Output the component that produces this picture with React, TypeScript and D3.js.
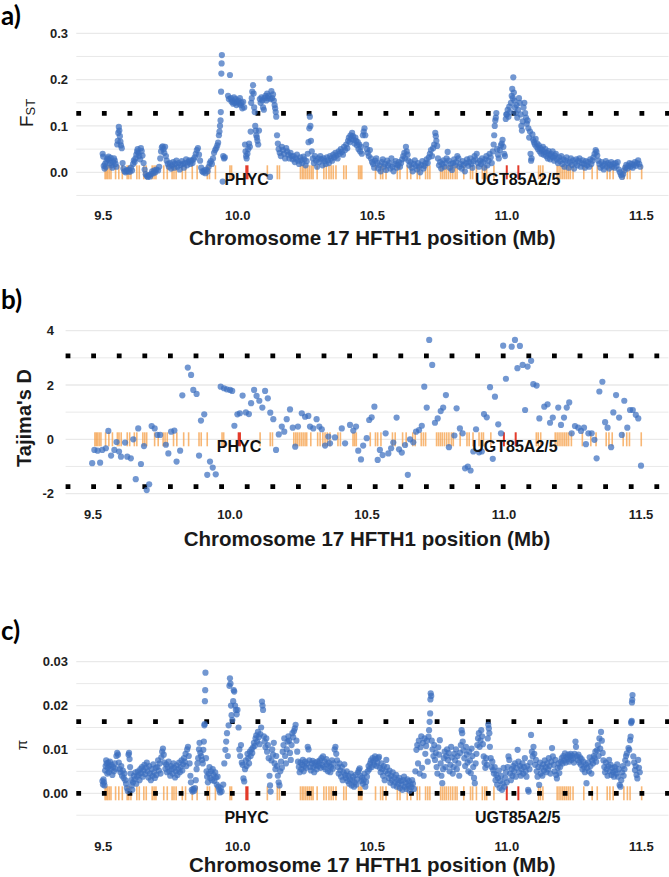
import React from 'react';
import * as d3 from 'd3';

type Pt = [number, number];

// ---- shared axis content ----
const xDomain: [number, number] = [9.4, 11.6];
const xTicks = [9.5, 10.0, 10.5, 11.0, 11.5];
const xTickLabels = ['9.5', '10.0', '10.5', '11.0', '11.5'];
const xTitle = 'Chromosome 17 HFTH1 position (Mb)';

const fstTicks = [0, 0.1, 0.2, 0.3];
const fstTickLabels = ['0.0', '0.1', '0.2', '0.3'];
const fstMinor = [-0.05, 0.05, 0.15, 0.25];
const fstCutoffs = [0.127];

const tajTicks = [-2, 0, 2, 4];
const tajTickLabels = ['-2', '0', '2', '4'];
const tajMinor = [-1, 1, 3];
const tajCutoffs = [3.07, -1.745];

const piTicks = [0, 0.01, 0.02, 0.03];
const piTickLabels = ['0.00', '0.01', '0.02', '0.03'];
const piMinor = [-0.005, 0.005, 0.015, 0.025];
const piCutoffs = [0.01636, 0];

// ---- gene annotation track (start Mb, length Mb) ----
const genes: Pt[] = [
  [9.504,0.004],[9.509,0.004],[9.514,0.005],[9.520,0.004],[9.526,0.003],[9.543,0.002],[9.555,0.003],[9.568,0.002],
  [9.586,0.004],[9.592,0.003],[9.600,0.004],[9.622,0.004],[9.631,0.004],[9.648,0.003],[9.657,0.004],[9.679,0.004],
  [9.686,0.003],[9.693,0.004],[9.722,0.003],[9.735,0.003],[9.753,0.004],[9.760,0.003],[9.768,0.004],[9.791,0.003],
  [9.803,0.003],[9.828,0.002],[9.846,0.003],[9.884,0.004],[9.892,0.004],[9.914,0.002],[9.968,0.004],[9.974,0.004],
  [10.107,0.002],[10.144,0.004],[10.152,0.004],[10.230,0.005],[10.237,0.004],[10.243,0.005],[10.250,0.004],[10.257,0.005],
  [10.264,0.004],[10.271,0.004],[10.277,0.004],[10.292,0.003],[10.317,0.003],[10.326,0.003],[10.336,0.003],[10.344,0.004],
  [10.352,0.003],[10.362,0.004],[10.391,0.003],[10.400,0.003],[10.446,0.004],[10.452,0.004],[10.458,0.003],[10.509,0.003],
  [10.528,0.004],[10.536,0.003],[10.548,0.004],[10.590,0.003],[10.600,0.002],[10.627,0.003],[10.640,0.003],[10.664,0.004],
  [10.673,0.003],[10.695,0.004],[10.703,0.003],[10.711,0.004],[10.751,0.004],[10.758,0.004],[10.765,0.003],[10.772,0.004],
  [10.780,0.003],[10.788,0.004],[10.796,0.003],[10.805,0.004],[10.812,0.003],[10.837,0.003],[10.862,0.004],[10.870,0.003],
  [10.884,0.004],[10.906,0.004],[10.915,0.003],[10.922,0.004],[10.949,0.003],[11.115,0.004],[11.122,0.003],[11.131,0.004],
  [11.184,0.005],[11.191,0.004],[11.198,0.005],[11.205,0.004],[11.212,0.005],[11.219,0.004],[11.226,0.004],[11.233,0.004],
  [11.243,0.004],[11.283,0.003],[11.314,0.003],[11.333,0.003],[11.370,0.004],[11.380,0.003],[11.392,0.004],[11.432,0.004],
  [11.445,0.003],[11.455,0.004],[11.498,0.004],
];
const candidateGenes: Pt[] = [[10.028, 0.012], [10.996, 0.005], [11.039, 0.005]];
const geneNames = ['PHYC', 'UGT85A2/5'];
const geneNamePos = [10.033, 11.040];

// ---- FST windows (Mb, FST) ----
const fstPoints: Pt[] = [
  [9.498,0.040],[9.500,0.034],[9.502,0.014],[9.505,0.008],[9.507,0.018],[9.510,0.012],[9.512,0.024],[9.515,0.030],[9.518,0.028],[9.520,0.034],
  [9.523,0.026],[9.526,0.020],[9.528,0.031],[9.531,0.015],[9.534,0.010],[9.537,0.022],[9.540,0.030],[9.543,0.025],[9.546,0.018],[9.549,0.012],
  [9.552,0.060],[9.554,0.068],[9.556,0.085],[9.558,0.098],[9.560,0.090],[9.562,0.078],[9.564,0.066],[9.566,0.058],[9.569,0.052],[9.572,0.020],
  [9.575,0.008],[9.579,0.002],[9.583,0.000],[9.587,0.004],[9.591,0.002],[9.595,0.006],[9.599,0.001],
  [9.603,0.010],[9.607,0.004],[9.611,0.018],[9.614,0.026],[9.617,0.022],[9.620,0.030],[9.623,0.038],[9.626,0.045],[9.628,0.050],[9.631,0.042],
  [9.634,0.035],[9.637,0.028],[9.640,0.052],[9.643,0.046],[9.646,0.036],[9.650,0.020],[9.654,0.006],[9.658,-0.004],[9.662,-0.008],[9.666,-0.010],
  [9.670,-0.006],[9.674,-0.009],[9.678,-0.004],[9.682,0.002],[9.686,-0.002],[9.690,0.004],[9.694,0.000],[9.698,0.006],
  [9.704,0.004],[9.708,0.012],[9.712,0.030],[9.715,0.045],[9.718,0.054],[9.721,0.056],[9.724,0.050],[9.727,0.042],[9.730,0.055],[9.733,0.035],
  [9.736,0.025],[9.740,0.018],[9.744,0.012],[9.748,0.020],[9.752,0.008],[9.756,0.015],[9.760,0.022],[9.764,0.010],[9.768,0.018],[9.772,0.025],
  [9.776,0.012],[9.780,0.020],[9.784,0.006],[9.788,0.016],[9.792,0.024],[9.796,0.018],[9.800,0.010],
  [9.804,0.020],[9.808,0.028],[9.812,0.015],[9.816,0.022],[9.820,0.026],[9.824,0.018],[9.828,0.025],[9.832,0.020],[9.836,0.028],[9.840,0.032],
  [9.844,0.040],[9.848,0.048],[9.852,0.052],[9.856,0.038],[9.860,0.025],[9.864,0.010],[9.868,0.002],[9.872,0.000],[9.876,0.004],[9.880,-0.002],
  [9.884,0.006],[9.888,0.002],[9.892,0.012],[9.896,0.020],[9.900,0.024],
  [9.904,0.018],[9.908,0.030],[9.912,0.042],[9.916,0.048],[9.920,0.052],[9.924,0.058],[9.927,0.064],[9.930,0.080],[9.932,0.088],[9.934,0.100],
  [9.936,0.112],[9.937,0.130],[9.938,0.174],[9.939,0.213],[9.940,0.235],[9.941,0.253],[9.944,-0.020],[9.946,0.035],[9.949,0.030],[9.952,0.032],
  [9.964,0.165],[9.967,0.158],[9.971,0.210],[9.974,0.160],[9.977,0.152],[9.980,0.155],[9.983,0.148],[9.986,0.162],[9.989,0.150],[9.992,0.158],
  [9.995,0.145],[9.998,0.152],
  [10.002,0.155],[10.005,0.148],[10.008,0.160],[10.011,0.145],[10.014,0.150],[10.017,0.138],[10.020,0.152],[10.024,0.140],[10.027,0.060],[10.029,0.045],
  [10.031,0.035],[10.033,0.030],[10.036,0.040],[10.039,0.050],[10.042,0.062],[10.045,0.055],[10.048,0.088],[10.050,0.150],[10.052,0.160],[10.054,0.174],
  [10.057,0.188],[10.059,0.170],[10.061,0.140],[10.063,0.130],[10.065,0.100],[10.067,0.090],[10.069,0.080],[10.071,0.075],[10.073,0.068],[10.076,0.060],
  [10.079,0.090],[10.082,0.158],[10.085,0.150],[10.088,0.162],[10.091,0.155],[10.094,0.140],[10.097,0.135],[10.100,0.160],
  [10.103,0.165],[10.106,0.155],[10.109,0.170],[10.112,0.160],[10.115,0.165],[10.118,0.202],[10.120,-0.010],[10.122,0.158],[10.125,0.175],[10.128,0.160],
  [10.131,0.168],[10.134,0.155],[10.137,0.145],[10.139,0.138],[10.141,0.130],[10.143,0.120],[10.146,0.080],[10.149,0.062],[10.152,0.050],[10.156,0.042],
  [10.160,0.035],[10.164,0.055],[10.168,0.048],[10.172,0.040],[10.176,0.030],[10.180,0.052],[10.184,0.045],[10.188,0.038],[10.192,0.030],[10.196,0.042],
  [10.200,0.035],
  [10.204,0.028],[10.208,0.035],[10.212,0.022],[10.216,0.030],[10.220,0.038],[10.224,0.025],[10.228,0.018],[10.232,0.032],[10.236,0.026],[10.240,0.020],
  [10.244,0.034],[10.248,0.028],[10.252,0.015],[10.256,0.024],[10.260,0.040],[10.263,0.065],[10.266,0.095],[10.268,0.120],[10.270,0.100],[10.272,0.068],
  [10.275,0.045],[10.279,0.030],[10.283,0.020],[10.287,0.035],[10.291,0.025],[10.295,0.012],[10.299,0.030],
  [10.303,0.022],[10.307,0.035],[10.311,0.028],[10.315,0.015],[10.319,0.030],[10.323,0.024],[10.327,0.018],[10.331,0.032],[10.335,0.026],[10.339,0.020],
  [10.343,0.035],[10.347,0.030],[10.351,0.025],[10.355,0.038],[10.359,0.032],[10.363,0.042],[10.367,0.036],[10.371,0.030],[10.375,0.045],[10.379,0.040],
  [10.383,0.050],[10.387,0.044],[10.391,0.038],[10.395,0.055],[10.399,0.048],
  [10.403,0.060],[10.407,0.052],[10.410,0.068],[10.413,0.075],[10.416,0.065],[10.419,0.080],[10.422,0.072],[10.425,0.085],[10.428,0.078],[10.431,0.070],
  [10.434,0.062],[10.437,0.075],[10.440,0.068],[10.443,0.058],[10.446,0.065],[10.449,0.050],[10.452,0.060],[10.455,0.045],[10.458,0.055],[10.461,0.040],
  [10.465,0.080],[10.468,0.088],[10.471,0.095],[10.474,0.080],[10.477,0.060],[10.480,0.050],[10.483,0.042],[10.487,0.035],[10.491,0.048],[10.495,0.030],
  [10.499,0.022],
  [10.503,0.018],[10.507,0.010],[10.511,0.025],[10.515,0.030],[10.519,0.020],[10.523,0.008],[10.527,0.015],[10.531,0.002],[10.535,0.022],[10.539,0.028],
  [10.543,0.012],[10.547,0.018],[10.551,0.005],[10.555,0.025],[10.559,0.015],[10.563,0.020],[10.567,0.008],[10.571,0.030],[10.575,0.012],[10.579,0.002],
  [10.583,0.018],[10.587,0.024],[10.591,0.010],[10.595,0.016],[10.599,0.022],
  [10.603,0.012],[10.607,0.020],[10.611,0.028],[10.615,0.035],[10.619,0.042],[10.622,0.030],[10.625,0.055],[10.628,0.045],[10.631,0.038],[10.634,0.025],
  [10.638,0.015],[10.642,0.022],[10.646,0.010],[10.650,0.002],[10.654,0.018],[10.658,0.026],[10.662,0.014],[10.666,0.006],[10.670,0.020],[10.674,0.012],
  [10.678,0.000],[10.682,0.016],[10.686,0.024],[10.690,0.008],[10.694,0.014],[10.698,0.020],
  [10.702,0.028],[10.706,0.020],[10.710,0.032],[10.714,0.040],[10.718,0.048],[10.722,0.035],[10.726,0.052],[10.730,0.060],[10.734,0.085],[10.736,0.078],
  [10.738,0.068],[10.741,0.057],[10.744,0.030],[10.748,0.015],[10.752,0.022],[10.756,0.008],[10.760,0.018],[10.764,0.026],[10.768,0.012],[10.772,0.020],
  [10.776,0.030],[10.780,0.044],[10.784,0.025],[10.788,0.010],[10.792,0.018],[10.796,0.005],
  [10.800,0.020],[10.804,0.028],[10.808,0.015],[10.812,0.022],[10.816,0.035],[10.820,0.030],[10.824,0.012],[10.828,0.018],[10.832,0.008],[10.836,0.024],
  [10.840,0.016],[10.844,0.002],[10.848,0.020],[10.852,0.028],[10.856,0.014],[10.860,0.022],[10.864,0.030],[10.868,0.018],[10.872,0.010],[10.876,0.024],
  [10.880,0.035],[10.884,0.028],[10.888,0.040],[10.892,0.020],[10.896,0.012],
  [10.900,0.025],[10.904,0.018],[10.908,0.030],[10.912,0.022],[10.916,0.010],[10.920,0.028],[10.924,0.035],[10.928,0.015],[10.932,0.025],[10.936,0.040],
  [10.940,0.032],[10.944,0.020],[10.948,0.045],[10.951,0.060],[10.953,0.080],[10.955,0.100],[10.957,0.112],[10.959,0.118],[10.961,0.128],[10.964,0.050],
  [10.967,0.038],[10.970,0.030],[10.974,0.048],[10.978,0.058],[10.981,0.062],[10.984,0.070],[10.987,0.055],[10.990,0.040],[10.993,0.035],[10.996,0.115],
  [10.998,0.125],
  [11.000,0.125],[11.003,0.135],[11.006,0.120],[11.009,0.142],[11.012,0.130],[11.015,0.150],[11.018,0.165],[11.020,0.180],[11.022,0.160],[11.024,0.205],
  [11.026,0.172],[11.028,0.155],[11.030,0.140],[11.033,0.128],[11.036,0.145],[11.039,0.118],[11.042,0.135],[11.045,0.160],[11.048,0.150],[11.051,0.125],
  [11.054,0.100],[11.056,0.090],[11.059,0.110],[11.062,0.140],[11.065,0.150],[11.068,0.128],[11.071,0.118],[11.074,0.105],[11.077,0.112],[11.080,0.095],
  [11.083,0.075],[11.086,0.088],[11.088,0.040],[11.090,0.025],[11.092,0.030],[11.095,0.082],[11.098,0.070],
  [11.101,0.065],[11.104,0.060],[11.107,0.072],[11.110,0.055],[11.113,0.062],[11.116,0.050],[11.119,0.058],[11.122,0.045],[11.125,0.052],[11.128,0.040],
  [11.131,0.048],[11.134,0.055],[11.137,0.038],[11.140,0.044],[11.143,0.050],[11.146,0.035],[11.149,0.042],[11.152,0.030],[11.155,0.046],[11.158,0.038],
  [11.161,0.028],[11.164,0.040],[11.167,0.034],[11.170,0.045],[11.173,0.032],[11.176,0.025],[11.179,0.036],[11.182,0.040],[11.186,0.028],[11.190,0.020],
  [11.194,0.032],[11.198,0.024],
  [11.202,0.035],[11.206,0.018],[11.210,0.028],[11.214,0.012],[11.218,0.025],[11.222,0.032],[11.226,0.020],[11.230,0.010],[11.234,0.022],[11.238,0.030],
  [11.242,0.016],[11.246,0.026],[11.250,0.008],[11.254,0.020],[11.258,0.028],[11.262,0.015],[11.266,0.024],[11.270,0.030],[11.274,0.012],[11.278,0.020],
  [11.282,0.026],[11.286,0.018],[11.290,0.010],[11.294,0.024],[11.298,0.015],
  [11.302,0.022],[11.306,0.012],[11.310,0.028],[11.314,0.018],[11.318,0.025],[11.322,0.032],[11.326,0.040],[11.330,0.048],[11.333,0.044],[11.336,0.036],
  [11.340,0.025],[11.344,0.018],[11.348,0.010],[11.352,0.022],[11.356,0.014],[11.360,0.006],[11.364,0.018],[11.368,0.024],[11.372,0.012],[11.376,0.020],
  [11.380,0.008],[11.384,0.016],[11.388,0.022],[11.392,0.012],[11.396,0.018],
  [11.400,0.010],[11.404,0.020],[11.408,0.014],[11.412,0.022],[11.416,0.006],[11.420,0.000],[11.424,-0.006],[11.428,-0.010],[11.432,-0.004],[11.436,0.004],
  [11.440,0.010],[11.444,0.016],[11.448,0.008],[11.452,0.014],[11.456,0.020],[11.460,0.012],[11.464,0.018],[11.468,0.010],[11.472,0.016],[11.476,0.022],
  [11.480,0.014],[11.484,0.020],[11.488,0.026],[11.492,0.018],[11.496,0.012],
];

// ---- Tajima's D windows (Mb, D) ----
const tajimaPoints: Pt[] = [
  [9.497,-0.88],[9.505,-0.39],[9.517,-0.42],[9.526,-0.86],[9.534,-0.39],[9.547,-0.33],[9.556,0.31],[9.566,-0.60],[9.578,-0.39],[9.586,-0.10],
  [9.595,-0.45],[9.602,-0.64],[9.617,-0.12],[9.625,-0.64],[9.638,-0.70],[9.647,0.00],[9.656,-1.47],[9.665,0.40],[9.675,-0.91],[9.686,-0.25],
  [9.696,-1.87],[9.705,-1.66],[9.714,0.49],[9.725,0.40],[9.735,0.16],[9.745,0.16],[9.766,-0.20],[9.775,-0.52],[9.785,0.28],[9.797,0.32],
  [9.805,-0.82],[9.818,-0.42],[9.826,1.62],[9.846,2.64],[9.858,2.37],[9.866,1.82],[9.878,1.67],[9.887,-0.60],[9.894,0.69],[9.906,0.92],
  [9.917,-1.31],[9.927,-0.82],[9.937,-1.04],[9.948,-1.29],[9.966,1.94],[9.978,1.88],[9.988,1.84],[10.000,1.82],[10.008,1.78],[10.016,0.50],
  [10.027,0.92],[10.036,0.96],[10.046,1.61],[10.058,0.99],[10.069,0.93],[10.077,1.33],[10.088,1.82],[10.097,1.60],[10.107,1.42],[10.118,1.17],
  [10.128,1.78],[10.138,1.51],[10.147,0.98],[10.158,0.74],[10.168,-0.39],[10.178,0.18],[10.189,0.47],[10.198,0.28],[10.207,0.74],[10.219,1.10],
  [10.229,0.43],[10.238,-0.27],[10.248,0.47],[10.262,0.96],[10.274,0.83],[10.286,0.86],[10.292,0.47],[10.304,0.40],[10.316,0.74],[10.326,0.47],
  [10.335,0.37],[10.347,-0.23],[10.359,0.10],[10.365,-0.15],[10.383,0.07],[10.408,0.40],[10.420,-0.15],[10.438,0.53],[10.450,0.32],[10.460,0.47],
  [10.468,-0.42],[10.478,-0.74],[10.486,-0.23],[10.499,0.04],[10.508,0.71],[10.517,0.81],[10.527,1.20],[10.539,-0.76],[10.547,-0.39],[10.557,-0.58],
  [10.568,0.22],[10.578,-0.52],[10.588,-0.33],[10.596,-0.12],[10.608,0.80],[10.617,-0.37],[10.627,-0.49],[10.639,-0.21],[10.649,-1.31],[10.657,0.00],
  [10.669,-0.11],[10.679,0.28],[10.690,0.34],[10.700,0.50],[10.709,1.94],[10.718,1.17],[10.727,3.66],[10.738,2.74],[10.748,0.61],[10.758,0.77],
  [10.769,1.04],[10.778,1.17],[10.788,1.63],[10.799,-0.29],[10.819,0.14],[10.827,1.14],[10.839,0.40],[10.849,0.22],[10.858,-1.07],[10.868,-1.01],
  [10.878,-1.15],[10.888,-0.45],[10.898,0.37],[10.909,-0.48],[10.919,-0.45],[10.927,0.93],[10.937,0.81],[10.949,1.92],[10.959,-0.72],[10.967,1.57],
  [10.979,0.55],[10.989,0.22],[10.997,3.45],[11.007,2.23],[11.028,3.41],[11.040,3.66],[11.049,2.62],[11.058,3.44],[11.068,2.74],[11.077,1.08],
  [11.086,2.68],[11.099,2.89],[11.107,2.03],[11.119,1.98],[11.129,0.77],[11.147,1.20],[11.159,1.29],[11.168,0.61],[11.178,0.80],[11.198,1.17],
  [11.208,0.53],[11.219,0.80],[11.229,1.17],[11.238,1.36],[11.247,0.22],[11.259,0.49],[11.271,0.43],[11.281,0.31],[11.292,0.43],[11.299,-0.18],
  [11.308,0.22],[11.320,0.22],[11.330,-0.02],[11.338,-0.70],[11.348,1.76],[11.359,2.12],[11.369,0.63],[11.378,0.43],[11.391,-0.29],[11.399,0.99],
  [11.409,1.63],[11.420,0.80],[11.430,0.16],[11.439,1.42],[11.450,0.43],[11.460,1.08],[11.470,1.08],[11.481,0.90],[11.490,0.77],[11.500,-0.97],
];

// ---- nucleotide diversity windows (Mb, pi) ----
const piPoints: Pt[] = [
  [9.497,0.0028],[9.499,0.0020],[9.501,0.0032],[9.503,0.0025],[9.505,0.0018],[9.507,0.0052],[9.509,0.0062],[9.511,0.0075],[9.513,0.0068],[9.515,0.0045],
  [9.517,0.0058],[9.519,0.0070],[9.521,0.0048],[9.523,0.0062],[9.525,0.0072],[9.528,0.0055],[9.531,0.0065],[9.534,0.0042],[9.537,0.0060],[9.540,0.0050],
  [9.543,0.0068],[9.546,0.0056],[9.549,0.0085],[9.552,0.0092],[9.555,0.0088],[9.558,0.0070],[9.561,0.0055],[9.564,0.0048],[9.567,0.0062],[9.570,0.0040],
  [9.573,0.0052],[9.576,0.0035],[9.579,0.0045],[9.582,0.0030],[9.585,0.0022],[9.588,0.0012],[9.591,0.0005],[9.594,0.0088],[9.596,0.0092],[9.598,0.0078],
  [9.600,0.0060],
  [9.602,0.0045],[9.604,0.0030],[9.606,0.0018],[9.608,0.0008],[9.611,0.0025],[9.614,0.0040],[9.617,0.0032],[9.620,0.0048],[9.623,0.0022],[9.626,0.0038],
  [9.629,0.0050],[9.632,0.0042],[9.635,0.0030],[9.638,0.0055],[9.641,0.0046],[9.644,0.0060],[9.647,0.0038],[9.650,0.0052],[9.653,0.0065],[9.656,0.0044],
  [9.659,0.0058],[9.662,0.0070],[9.665,0.0050],[9.668,0.0036],[9.671,0.0062],[9.674,0.0045],[9.677,0.0030],[9.680,0.0055],[9.683,0.0040],[9.686,0.0066],
  [9.689,0.0048],[9.692,0.0035],[9.695,0.0058],[9.698,0.0042],
  [9.701,0.0060],[9.704,0.0075],[9.707,0.0052],[9.710,0.0068],[9.713,0.0045],[9.716,0.0082],[9.719,0.0095],[9.722,0.0102],[9.725,0.0088],[9.728,0.0070],
  [9.731,0.0056],[9.734,0.0066],[9.737,0.0048],[9.740,0.0060],[9.743,0.0072],[9.746,0.0050],[9.749,0.0040],[9.752,0.0062],[9.755,0.0055],[9.758,0.0045],
  [9.761,0.0068],[9.764,0.0058],[9.767,0.0036],[9.770,0.0050],[9.773,0.0064],[9.776,0.0042],[9.779,0.0055],[9.782,0.0070],[9.785,0.0048],[9.788,0.0060],
  [9.791,0.0075],[9.794,0.0052],[9.797,0.0066],
  [9.800,0.0080],[9.803,0.0072],[9.806,0.0090],[9.809,0.0062],[9.812,0.0100],[9.815,0.0106],[9.818,0.0085],[9.821,0.0068],[9.824,0.0040],[9.826,0.0025],
  [9.829,0.0008],[9.832,0.0004],[9.835,0.0010],[9.838,0.0006],[9.841,0.0012],[9.844,0.0030],[9.847,0.0055],[9.850,0.0068],[9.853,0.0080],[9.856,0.0100],
  [9.858,0.0115],[9.861,0.0092],[9.864,0.0085],[9.867,0.0076],[9.870,0.0068],[9.872,0.0099],[9.874,0.0118],[9.876,0.0155],[9.877,0.0158],[9.878,0.0210],
  [9.879,0.0235],[9.880,0.0275],[9.882,0.0080],[9.884,0.0050],[9.886,0.0038],[9.889,0.0025],[9.892,0.0045],[9.895,0.0060],[9.898,0.0035],
  [9.901,0.0050],[9.904,0.0030],[9.907,0.0055],[9.910,0.0042],[9.913,0.0028],[9.916,0.0048],[9.919,0.0036],[9.922,0.0020],[9.925,0.0038],[9.928,0.0015],
  [9.931,0.0008],[9.934,0.0002],[9.937,0.0012],[9.940,0.0004],[9.946,0.0020],[9.950,0.0068],[9.954,0.0099],[9.957,0.0118],[9.960,0.0137],[9.963,0.0085],
  [9.966,0.0155],[9.969,0.0245],[9.971,0.0262],[9.973,0.0250],[9.975,0.0200],[9.977,0.0178],[9.980,0.0167],[9.983,0.0210],[9.985,0.0235],[9.987,0.0232],
  [9.990,0.0200],[9.993,0.0190],[9.996,0.0180],[9.999,0.0190],
  [10.003,0.0150],[10.006,0.0100],[10.009,0.0085],[10.012,0.0110],[10.015,0.0070],[10.018,0.0065],[10.021,0.0034],[10.024,0.0027],[10.027,0.0055],[10.030,0.0075],
  [10.033,0.0062],[10.036,0.0090],[10.039,0.0080],[10.042,0.0068],[10.045,0.0095],[10.048,0.0085],[10.051,0.0100],[10.054,0.0092],[10.057,0.0105],[10.060,0.0115],
  [10.063,0.0108],[10.066,0.0125],[10.069,0.0132],[10.072,0.0118],[10.075,0.0140],[10.078,0.0128],[10.081,0.0112],[10.084,0.0135],[10.087,0.0150],[10.090,0.0209],
  [10.092,0.0200],[10.094,0.0190],[10.097,0.0130],[10.100,0.0118],
  [10.103,0.0105],[10.106,0.0125],[10.109,0.0095],[10.112,0.0110],[10.115,0.0080],[10.118,0.0040],[10.120,0.0018],[10.122,0.0004],[10.125,0.0075],[10.128,0.0100],
  [10.131,0.0088],[10.134,0.0115],[10.137,0.0068],[10.140,0.0055],[10.143,0.0085],[10.146,0.0062],[10.149,0.0040],[10.152,0.0025],[10.155,0.0018],[10.158,0.0050],
  [10.161,0.0072],[10.164,0.0058],[10.167,0.0095],[10.170,0.0110],[10.173,0.0125],[10.176,0.0085],[10.179,0.0068],[10.182,0.0100],[10.185,0.0118],[10.188,0.0130],
  [10.191,0.0120],[10.194,0.0092],[10.197,0.0076],
  [10.200,0.0110],[10.203,0.0137],[10.206,0.0128],[10.209,0.0142],[10.212,0.0148],[10.215,0.0156],[10.218,0.0120],[10.221,0.0095],[10.224,0.0072],[10.227,0.0060],
  [10.230,0.0048],[10.233,0.0070],[10.236,0.0055],[10.239,0.0065],[10.242,0.0076],[10.245,0.0050],[10.248,0.0062],[10.251,0.0072],[10.254,0.0058],[10.257,0.0068],
  [10.260,0.0106],[10.263,0.0100],[10.266,0.0075],[10.269,0.0060],[10.272,0.0052],[10.275,0.0068],[10.278,0.0074],[10.281,0.0060],[10.284,0.0048],[10.287,0.0070],
  [10.290,0.0064],[10.293,0.0055],[10.296,0.0072],[10.299,0.0062],
  [10.302,0.0068],[10.305,0.0075],[10.308,0.0058],[10.311,0.0080],[10.314,0.0065],[10.317,0.0084],[10.320,0.0060],[10.323,0.0072],[10.326,0.0055],[10.329,0.0078],
  [10.332,0.0066],[10.335,0.0050],[10.338,0.0070],[10.341,0.0062],[10.344,0.0048],[10.347,0.0060],[10.350,0.0075],[10.353,0.0056],[10.356,0.0068],[10.360,0.0100],
  [10.363,0.0106],[10.366,0.0090],[10.369,0.0075],[10.372,0.0060],[10.375,0.0045],[10.378,0.0068],[10.381,0.0052],[10.384,0.0038],[10.387,0.0060],[10.390,0.0030],
  [10.393,0.0048],[10.396,0.0066],[10.399,0.0042],
  [10.402,0.0035],[10.405,0.0050],[10.408,0.0028],[10.411,0.0040],[10.414,0.0022],[10.417,0.0032],[10.420,0.0045],[10.423,0.0018],[10.426,0.0030],[10.429,0.0038],
  [10.432,0.0015],[10.435,0.0025],[10.438,0.0042],[10.441,0.0020],[10.444,0.0032],[10.447,0.0048],[10.450,0.0053],[10.453,0.0057],[10.456,0.0040],[10.459,0.0028],
  [10.462,0.0036],[10.465,0.0022],[10.468,0.0030],[10.471,0.0045],[10.474,0.0015],[10.477,0.0026],[10.480,0.0038],[10.483,0.0050],[10.486,0.0062],[10.489,0.0055],
  [10.492,0.0068],[10.495,0.0075],[10.498,0.0060],
  [10.501,0.0080],[10.504,0.0072],[10.507,0.0065],[10.510,0.0084],[10.513,0.0078],[10.516,0.0062],[10.519,0.0070],[10.522,0.0080],[10.525,0.0083],[10.528,0.0058],
  [10.531,0.0048],[10.534,0.0068],[10.537,0.0055],[10.540,0.0040],[10.543,0.0062],[10.546,0.0030],[10.549,0.0050],[10.552,0.0076],[10.555,0.0060],[10.558,0.0045],
  [10.561,0.0035],[10.564,0.0052],[10.567,0.0024],[10.570,0.0040],[10.573,0.0030],[10.576,0.0048],[10.579,0.0018],[10.582,0.0036],[10.585,0.0025],[10.588,0.0042],
  [10.591,0.0015],[10.594,0.0030],[10.597,0.0022],
  [10.600,0.0035],[10.603,0.0012],[10.606,0.0028],[10.609,0.0020],[10.612,0.0008],[10.615,0.0030],[10.618,0.0038],[10.621,0.0015],[10.624,0.0024],[10.627,0.0010],
  [10.630,0.0032],[10.633,0.0018],[10.636,0.0028],[10.639,0.0006],[10.642,0.0020],[10.645,0.0014],[10.648,0.0030],[10.651,0.0022],[10.655,0.0010],[10.660,0.0050],
  [10.664,0.0099],[10.667,0.0110],[10.670,0.0068],[10.673,0.0120],[10.676,0.0045],[10.679,0.0105],[10.682,0.0130],[10.685,0.0058],[10.688,0.0115],[10.691,0.0040],
  [10.694,0.0125],[10.697,0.0090],
  [10.700,0.0108],[10.703,0.0120],[10.706,0.0072],[10.709,0.0129],[10.711,0.0144],[10.713,0.0163],[10.715,0.0182],[10.716,0.0214],[10.717,0.0228],[10.719,0.0222],
  [10.721,0.0120],[10.724,0.0100],[10.727,0.0085],[10.730,0.0110],[10.733,0.0076],[10.736,0.0092],[10.739,0.0060],[10.742,0.0045],[10.745,0.0105],[10.748,0.0088],
  [10.751,0.0121],[10.754,0.0068],[10.757,0.0040],[10.760,0.0023],[10.763,0.0055],[10.766,0.0080],[10.769,0.0095],[10.772,0.0060],[10.775,0.0085],[10.778,0.0100],
  [10.781,0.0076],[10.784,0.0092],[10.787,0.0050],[10.790,0.0065],[10.793,0.0106],[10.796,0.0082],[10.799,0.0045],
  [10.802,0.0060],[10.805,0.0090],[10.808,0.0075],[10.811,0.0100],[10.814,0.0055],[10.817,0.0085],[10.820,0.0068],[10.823,0.0040],[10.826,0.0092],[10.829,0.0110],
  [10.832,0.0144],[10.834,0.0137],[10.836,0.0118],[10.839,0.0098],[10.842,0.0080],[10.845,0.0062],[10.848,0.0106],[10.851,0.0088],[10.854,0.0070],[10.857,0.0050],
  [10.860,0.0095],[10.863,0.0075],[10.866,0.0046],[10.869,0.0102],[10.872,0.0085],[10.875,0.0060],[10.878,0.0035],[10.881,0.0023],[10.884,0.0068],[10.887,0.0090],
  [10.890,0.0110],[10.893,0.0125],[10.896,0.0137],
  [10.899,0.0106],[10.902,0.0120],[10.905,0.0144],[10.908,0.0130],[10.911,0.0112],[10.914,0.0084],[10.917,0.0070],[10.920,0.0058],[10.923,0.0080],[10.926,0.0065],
  [10.929,0.0125],[10.931,0.0156],[10.933,0.0148],[10.935,0.0137],[10.937,0.0106],[10.940,0.0080],[10.943,0.0060],[10.946,0.0072],[10.949,0.0053],[10.952,0.0045],
  [10.955,0.0060],[10.958,0.0030],[10.961,0.0042],[10.964,0.0020],[10.967,0.0035],[10.970,0.0052],[10.973,0.0012],[10.976,0.0028],[10.979,0.0040],[10.982,0.0008],
  [10.985,0.0022],[10.988,0.0058],[10.991,0.0015],[10.994,0.0035],[10.997,0.0048],
  [11.000,0.0025],[11.003,0.0060],[11.006,0.0084],[11.009,0.0076],[11.012,0.0045],[11.015,0.0030],[11.018,0.0055],[11.021,0.0040],[11.024,0.0062],[11.027,0.0050],
  [11.030,0.0068],[11.033,0.0038],[11.036,0.0058],[11.040,0.0099],[11.043,0.0072],[11.046,0.0048],[11.049,0.0062],[11.052,0.0040],[11.055,0.0055],[11.058,0.0068],
  [11.061,0.0045],[11.064,0.0060],[11.067,0.0080],[11.070,0.0050],[11.073,0.0038],[11.076,0.0062],[11.079,0.0008],[11.081,0.0004],[11.084,0.0055],[11.087,0.0070],
  [11.090,0.0133],[11.093,0.0095],[11.096,0.0084],[11.099,0.0106],
  [11.102,0.0090],[11.105,0.0065],[11.108,0.0076],[11.111,0.0050],[11.114,0.0038],[11.117,0.0060],[11.120,0.0019],[11.123,0.0070],[11.126,0.0045],[11.129,0.0058],
  [11.132,0.0040],[11.135,0.0066],[11.138,0.0052],[11.141,0.0075],[11.144,0.0060],[11.147,0.0048],[11.150,0.0068],[11.153,0.0055],[11.156,0.0080],[11.159,0.0062],
  [11.162,0.0045],[11.165,0.0072],[11.168,0.0103],[11.171,0.0084],[11.174,0.0065],[11.177,0.0050],[11.180,0.0076],[11.183,0.0042],[11.186,0.0034],[11.189,0.0058],
  [11.192,0.0068],[11.195,0.0046],[11.198,0.0060],
  [11.201,0.0072],[11.204,0.0080],[11.207,0.0068],[11.210,0.0085],[11.213,0.0075],[11.216,0.0091],[11.219,0.0070],[11.222,0.0082],[11.225,0.0078],[11.228,0.0088],
  [11.231,0.0072],[11.234,0.0084],[11.237,0.0090],[11.240,0.0076],[11.243,0.0086],[11.246,0.0080],[11.249,0.0070],[11.252,0.0090],[11.255,0.0118],[11.257,0.0106],
  [11.260,0.0084],[11.263,0.0076],[11.266,0.0088],[11.269,0.0070],[11.272,0.0082],[11.275,0.0065],[11.278,0.0078],[11.281,0.0055],[11.284,0.0072],[11.287,0.0060],
  [11.290,0.0048],[11.293,0.0066],[11.296,0.0023],[11.299,0.0058],
  [11.302,0.0070],[11.305,0.0050],[11.308,0.0082],[11.311,0.0062],[11.314,0.0045],[11.317,0.0075],[11.320,0.0068],[11.323,0.0085],[11.326,0.0080],[11.329,0.0095],
  [11.332,0.0072],[11.335,0.0098],[11.338,0.0110],[11.341,0.0085],[11.344,0.0125],[11.347,0.0102],[11.350,0.0140],[11.353,0.0120],[11.356,0.0092],[11.359,0.0075],
  [11.362,0.0060],[11.365,0.0048],[11.368,0.0070],[11.371,0.0055],[11.374,0.0040],[11.377,0.0062],[11.380,0.0076],[11.383,0.0050],[11.386,0.0065],[11.389,0.0042],
  [11.392,0.0058],[11.395,0.0048],[11.398,0.0038],
  [11.401,0.0060],[11.404,0.0052],[11.407,0.0045],[11.410,0.0066],[11.413,0.0038],[11.416,0.0055],[11.419,0.0019],[11.422,0.0015],[11.425,0.0030],[11.428,0.0048],
  [11.431,0.0062],[11.434,0.0040],[11.437,0.0055],[11.440,0.0075],[11.443,0.0085],[11.446,0.0091],[11.449,0.0068],[11.452,0.0103],[11.455,0.0099],[11.458,0.0121],
  [11.460,0.0129],[11.462,0.0160],[11.463,0.0163],[11.464,0.0165],[11.465,0.0207],[11.466,0.0213],[11.467,0.0224],[11.470,0.0084],[11.473,0.0070],[11.476,0.0053],
  [11.479,0.0062],[11.482,0.0042],[11.485,0.0034],[11.488,0.0076],[11.491,0.0058],[11.494,0.0048],
];

const FONT = "'Liberation Sans', Arial, Helvetica, sans-serif";
const TAG_FONT = "Lato, 'Open Sans', sans-serif";
const POINT_COLOR = '#3b6fbf';
const GENE_COLOR = '#f5993a';
const CANDIDATE_COLOR = '#e2301f';
const GRID_COLOR = '#e9e9e9';

interface PanelProps {
  tag: string;
  tagY: number;
  left: number;
  right: number;
  yAt: [number, number];
  yPx: [number, number];
  ticks: number[];
  tickLabels: string[];
  minor: number[];
  tickRight: number;
  xTickY: number;
  titleY: number;
  points: Pt[];
  cutoffs: number[];
  geneLabelY: number;
  yTitle: React.ReactNode;
}

function Panel(p: PanelProps) {
  const x = d3.scaleLinear().domain(xDomain).range([p.left, p.right]);
  const y = d3.scaleLinear().domain(p.yAt).range(p.yPx);
  const y0 = y(0);
  const gridEnd = 668.5;
  return (
    <g>
      <text x={1} y={p.tagY} fontFamily={TAG_FONT} fontWeight={700} fontSize={26} fill="#000">{p.tag}</text>
      {p.minor.map((v) => (
        <line key={'mn' + v} x1={p.left} x2={gridEnd} y1={y(v)} y2={y(v)} stroke={GRID_COLOR} strokeWidth={1} />
      ))}
      {p.ticks.map((v) => (
        <line key={'mj' + v} x1={p.left} x2={gridEnd} y1={y(v)} y2={y(v)} stroke={GRID_COLOR} strokeWidth={1.3} />
      ))}
      {p.ticks.map((v, i) => (
        <text key={'yt' + v} x={p.tickRight} y={y(v)} dy="0.35em" textAnchor="end"
          fontFamily={FONT} fontWeight={700} fontSize={13} fill="#1e1e1e">{p.tickLabels[i]}</text>
      ))}
      {xTicks.map((v, i) => (
        <text key={'xt' + v} x={x(v)} y={p.xTickY} textAnchor="middle"
          fontFamily={FONT} fontWeight={700} fontSize={13} fill="#1e1e1e">{xTickLabels[i]}</text>
      ))}
      <text x={(p.left + p.right) / 2} y={p.titleY} textAnchor="middle" fontFamily={FONT}
        fontWeight={700} fontSize={20.5} fill="#1a1a1a">{xTitle}</text>
      {p.yTitle}
      {genes.map(([s, w], i) => (
        <rect key={'g' + i} x={x(s)} y={y0 - 7} width={Math.max(1.6, x(s + w) - x(s))} height={14}
          fill={GENE_COLOR} fillOpacity={0.7} />
      ))}
      {candidateGenes.map(([s, w], i) => (
        <rect key={'c' + i} x={x(s)} y={y0 - 7} width={Math.max(2, x(s + w) - x(s))} height={14}
          fill={CANDIDATE_COLOR} fillOpacity={0.95} />
      ))}
      {p.cutoffs.map((v) => (
        <line key={'h' + v} x1={p.left} x2={669} y1={y(v)} y2={y(v)} stroke="#000" strokeWidth={4.8}
          strokeDasharray="4.8 20.8" />
      ))}
      {p.points.map(([px, py], i) => (
        <circle key={'p' + i} cx={x(px)} cy={y(py)} r={3.1} fill={POINT_COLOR} fillOpacity={0.72} />
      ))}
      {geneNames.map((n, i) => (
        <text key={'gn' + n} x={x(geneNamePos[i])} y={p.geneLabelY} textAnchor="middle"
          fontFamily={FONT} fontWeight={700} fontSize={16} fill="#111">{n}</text>
      ))}
    </g>
  );
}

export default function App() {
  return (
    <svg width={669} height={877} viewBox="0 0 669 877"
      style={{ position: 'absolute', left: 0, top: 0, background: '#fff' }}>
      <rect x={0} y={0} width={669} height={877} fill="#fff" />
      <Panel
        tag="a)" tagY={25} left={76.3} right={668.3}
        yAt={[0, 0.3]} yPx={[172.3, 33.3]}
        ticks={fstTicks} tickLabels={fstTickLabels} minor={fstMinor}
        tickRight={68} xTickY={220} titleY={245}
        points={fstPoints} cutoffs={fstCutoffs} geneLabelY={185}
        yTitle={
          <text transform="translate(33,113) rotate(-90)" textAnchor="middle" fontFamily={FONT} fill="#1a1a1a">
            <tspan fontSize={19}>F</tspan><tspan fontSize={13} dy={2}>ST</tspan>
          </text>
        }
      />
      <Panel
        tag="b)" tagY={309} left={65.6} right={668.4}
        yAt={[0, 4]} yPx={[439.3, 330.7]}
        ticks={tajTicks} tickLabels={tajTickLabels} minor={tajMinor}
        tickRight={54} xTickY={519} titleY={546}
        points={tajimaPoints} cutoffs={tajCutoffs} geneLabelY={452}
        yTitle={
          <text transform="translate(31,418) rotate(-90)" textAnchor="middle" fontFamily={FONT}
            fontWeight={700} fontSize={20} fill="#1a1a1a">Tajima's D</text>
        }
      />
      <Panel
        tag="c)" tagY={640} left={76.3} right={668.3}
        yAt={[0, 0.03]} yPx={[793.3, 661.7]}
        ticks={piTicks} tickLabels={piTickLabels} minor={piMinor}
        tickRight={68} xTickY={851} titleY={872}
        points={piPoints} cutoffs={piCutoffs} geneLabelY={823}
        yTitle={
          <text transform="translate(27,745) rotate(-90)" textAnchor="middle" fontFamily={FONT}
            fontSize={15} fill="#1a1a1a">π</text>
        }
      />
    </svg>
  );
}
